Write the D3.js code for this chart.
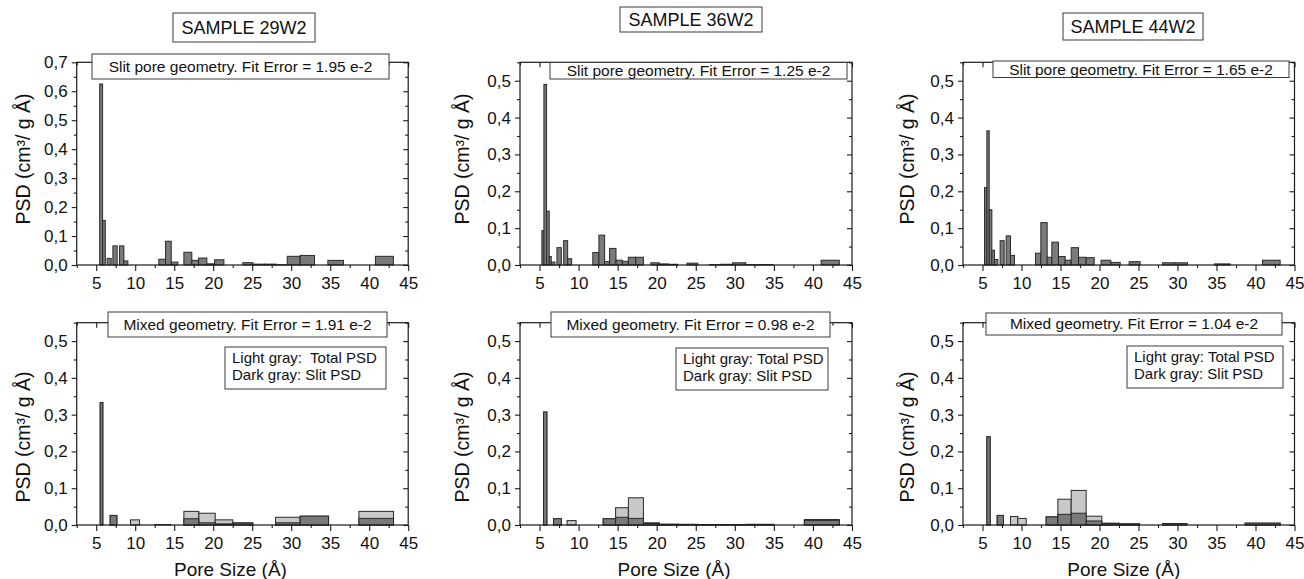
<!DOCTYPE html>
<html>
<meta charset="utf-8">
<style>

body {
  margin: 0;
  background: #fff;
  font-family: "Liberation Sans", Arial, sans-serif;
}

.frame {
  fill: none;
  stroke: #1a1a1a;
  stroke-width: 1.2px;
}

.axis path {
  display: none;
}

.axis line {
  stroke: #1a1a1a;
  stroke-width: 1.1px;
}

.axis text {
  font-family: "Liberation Sans", Arial, sans-serif;
  font-size: 17px;
  fill: #111;
}

.slit {
  fill: #7a7a7a;
  stroke: #2a2a2a;
  stroke-width: 1px;
}

.total {
  fill: #c8c8c8;
  stroke: #2a2a2a;
  stroke-width: 1px;
}

.box {
  fill: #fff;
  stroke: #3a3a3a;
  stroke-width: 1px;
}

</style>
<body>
<script src="https://cdn.jsdelivr.net/npm/d3@7"></script>
<script>

// slit-only fits: [bin start, bin end, PSD]
var slit29 = [
  [5.45, 5.82, 0.625], [5.82, 6.17, 0.154], [6.40, 6.92, 0.023],
  [7.14, 7.69, 0.066], [7.99, 8.55, 0.066], [8.55, 9.06, 0.014],
  [13.03, 13.89, 0.020], [13.89, 14.62, 0.082], [14.62, 15.47, 0.010],
  [16.24, 17.26, 0.044], [17.26, 18.12, 0.016], [18.12, 19.19, 0.024],
  [19.19, 20.17, 0.004], [20.17, 21.37, 0.018], [23.80, 25.09, 0.008],
  [25.09, 26.58, 0.003], [26.58, 28.08, 0.003], [28.08, 29.49, 0.001],
  [29.49, 31.15, 0.030], [31.15, 32.99, 0.033], [34.70, 36.70, 0.016],
  [40.80, 43.10, 0.030]
];

var slit36 = [
  [5.30, 5.56, 0.093], [5.56, 5.90, 0.490], [5.90, 6.24, 0.146],
  [6.24, 6.50, 0.023], [6.50, 6.97, 0.008], [7.23, 7.79, 0.047],
  [8.09, 8.60, 0.066], [8.60, 9.12, 0.017], [11.82, 12.60, 0.034],
  [12.60, 13.33, 0.081], [13.33, 13.97, 0.009], [13.97, 14.79, 0.045],
  [14.79, 15.60, 0.013], [15.60, 16.37, 0.010], [16.37, 17.32, 0.021],
  [17.32, 18.30, 0.021], [19.25, 20.32, 0.006], [20.32, 21.48, 0.003],
  [21.48, 22.68, 0.002], [23.88, 25.26, 0.005], [26.76, 28.18, 0.001],
  [28.18, 29.72, 0.002], [29.72, 31.40, 0.006], [31.40, 33.20, 0.001],
  [33.20, 34.90, 0.001], [41.05, 43.37, 0.013]
];

var slit44 = [
  [5.26, 5.56, 0.210], [5.56, 5.86, 0.364], [5.86, 6.20, 0.150],
  [6.20, 6.53, 0.040], [6.53, 6.97, 0.015], [7.26, 7.78, 0.066],
  [8.03, 8.59, 0.079], [8.59, 9.10, 0.026], [11.79, 12.48, 0.032],
  [12.48, 13.29, 0.115], [13.29, 13.89, 0.021], [13.89, 14.74, 0.062],
  [14.74, 15.60, 0.023], [15.60, 16.37, 0.013], [16.37, 17.31, 0.047],
  [17.31, 18.29, 0.021], [18.29, 19.32, 0.020], [20.20, 21.45, 0.013],
  [21.45, 22.65, 0.007], [23.80, 25.21, 0.009], [28.08, 29.62, 0.006],
  [29.62, 31.28, 0.006], [34.74, 36.75, 0.003], [40.90, 43.16, 0.013]
];

// mixed fits: [bin start, bin end, total PSD, slit PSD]
var mixed29 = [
  [5.51, 5.85, 0.333, 0.333], [6.79, 7.65, 0.026, 0.026], [9.40, 10.56, 0.014, 0],
  [12.50, 14.60, 0.001, 0], [16.24, 18.16, 0.037, 0.017], [18.16, 20.26, 0.032, 0.006],
  [20.26, 22.52, 0.014, 0.003], [22.52, 25.08, 0.006, 0.005], [27.99, 31.15, 0.021, 0.006],
  [31.15, 34.79, 0.024, 0.024], [38.68, 43.12, 0.037, 0.018]
];

var mixed36 = [
  [5.52, 5.94, 0.307, 0.307], [6.80, 7.79, 0.017, 0.017], [8.52, 9.68, 0.012, 0],
  [13.15, 14.74, 0.017, 0.017], [14.74, 16.37, 0.047, 0.021], [16.37, 18.30, 0.074, 0.018],
  [18.30, 20.32, 0.006, 0.004], [20.32, 22.68, 0.002, 0.002], [22.68, 25.26, 0.002, 0.001],
  [25.26, 28.26, 0.001, 0.001], [28.26, 31.40, 0.001, 0.001], [31.40, 35.00, 0.002, 0.001],
  [38.90, 43.37, 0.015, 0.012]
];

var mixed44 = [
  [5.56, 5.98, 0.240, 0.240], [6.88, 7.69, 0.026, 0.026], [8.59, 9.53, 0.023, 0],
  [9.53, 10.60, 0.018, 0], [13.16, 14.66, 0.022, 0.022], [14.66, 16.37, 0.070, 0.029],
  [16.37, 18.29, 0.094, 0.032], [18.29, 20.30, 0.024, 0.011], [20.30, 22.56, 0.005, 0.004],
  [22.56, 25.13, 0.003, 0.003], [28.08, 31.20, 0.004, 0.004], [38.67, 43.16, 0.005, 0.005]
];

var samples = ["SAMPLE 29W2", "SAMPLE 36W2", "SAMPLE 44W2"];
var slitNotes = ["Slit pore geometry. Fit Error = 1.95 e-2",
                 "Slit pore geometry. Fit Error = 1.25 e-2",
                 "Slit pore geometry. Fit Error = 1.65 e-2"];
var mixedNotes = ["Mixed geometry. Fit Error = 1.91 e-2",
                  "Mixed geometry. Fit Error = 0.98 e-2",
                  "Mixed geometry. Fit Error = 1.04 e-2"];
var legendLines = [["Light gray:  Total PSD", "Dark gray: Slit PSD"],
                   ["Light gray: Total PSD", "Dark gray: Slit PSD"],
                   ["Light gray: Total PSD", "Dark gray: Slit PSD"]];

var xTicks = [5, 10, 15, 20, 25, 30, 35, 40, 45],
    xMinor = [2.5, 7.5, 12.5, 17.5, 22.5, 27.5, 32.5, 37.5, 42.5],
    yTicks07 = [0, 0.1, 0.2, 0.3, 0.4, 0.5, 0.6, 0.7],
    yTicks05 = [0, 0.1, 0.2, 0.3, 0.4, 0.5],
    yMinor07 = [0.05, 0.15, 0.25, 0.35, 0.45, 0.55, 0.65],
    yMinor05 = [0.05, 0.15, 0.25, 0.35, 0.45, 0.55];

// layout
var cols = [
  {left: 76.7, right: 408.2, ylab: 23, xlabShift: -12},
  {left: 520, right: 852, ylab: 462, xlabShift: -12},
  {left: 963, right: 1294.5, ylab: 907, xlabShift: -5}
];
var rows = [
  {top: 62.3, bottom: 265, ylabY: 159},
  {top: 322.7, bottom: 525, ylabY: 437}
];
var titleBoxes = [[173, 13, 142, 29], [620, 7, 142, 25], [1063, 13, 140, 27]];
var noteBoxes = [
  [[92, 54, 297, 25], [550, 62.5, 297, 16.5], [993, 61, 296, 16.5]],
  [[108, 312, 279, 25], [551, 312, 279, 25], [986, 313, 296, 22]]
];
var legendBoxes = [[225, 347, 161, 42], [676, 348, 152, 42], [1127, 346, 156, 42]];

var fmt = function(d) { return d3.format(".1f")(d).replace(".", ","); };

var svg = d3.select("body").append("svg")
    .attr("width", 1304)
    .attr("height", 579);

function box(r, text, size) {
  svg.append("rect")
      .attr("class", "box")
      .attr("x", r[0]).attr("y", r[1])
      .attr("width", r[2]).attr("height", r[3]);
  svg.append("text")
      .attr("x", r[0] + r[2] / 2)
      .attr("y", r[1] + r[3] / 2 + size * 0.35)
      .attr("text-anchor", "middle")
      .style("font-size", size + "px")
      .style("fill", "#111")
      .text(text);
}

function panel(ci, ri, ymax, yTicks, yMinor, draw) {
  var c = cols[ci], r = rows[ri];

  var x = d3.scaleLinear().domain([2.5, 45]).range([c.left, c.right]);
  var y = d3.scaleLinear().domain([0, ymax]).range([r.bottom, r.top]);

  var g = svg.append("g");

  draw(g, x, y);

  g.append("rect")
      .attr("class", "frame")
      .attr("x", c.left).attr("y", r.top)
      .attr("width", c.right - c.left).attr("height", r.bottom - r.top);

  // bottom / left: outward ticks with labels
  g.append("g").attr("class", "axis")
      .attr("transform", "translate(0," + r.bottom + ")")
      .call(d3.axisBottom(x).tickValues(xTicks).tickSize(6).tickPadding(6).tickFormat(d3.format("d")));
  g.append("g").attr("class", "axis")
      .attr("transform", "translate(0," + r.bottom + ")")
      .call(d3.axisBottom(x).tickValues(xMinor).tickSize(3).tickFormat(""));
  g.append("g").attr("class", "axis")
      .attr("transform", "translate(" + c.left + ",0)")
      .call(d3.axisLeft(y).tickValues(yTicks).tickSize(5).tickPadding(4).tickFormat(fmt));
  g.append("g").attr("class", "axis")
      .attr("transform", "translate(" + c.left + ",0)")
      .call(d3.axisLeft(y).tickValues(yMinor).tickSize(3).tickFormat(""));

  // top / right: inward ticks, no labels
  g.append("g").attr("class", "axis")
      .attr("transform", "translate(0," + r.top + ")")
      .call(d3.axisBottom(x).tickValues(xTicks).tickSize(5).tickFormat(""));
  g.append("g").attr("class", "axis")
      .attr("transform", "translate(0," + r.top + ")")
      .call(d3.axisBottom(x).tickValues(xMinor).tickSize(3).tickFormat(""));
  g.append("g").attr("class", "axis")
      .attr("transform", "translate(" + c.right + ",0)")
      .call(d3.axisLeft(y).tickValues(yTicks).tickSize(5).tickFormat(""));
  g.append("g").attr("class", "axis")
      .attr("transform", "translate(" + c.right + ",0)")
      .call(d3.axisLeft(y).tickValues(yMinor).tickSize(3).tickFormat(""));

  g.append("text")
      .attr("transform", "translate(" + c.ylab + "," + r.ylabY + ") rotate(-90)")
      .attr("text-anchor", "middle")
      .attr("dy", "0.35em")
      .style("font-size", "19.5px")
      .style("fill", "#111")
      .text("PSD (cm³/ g Å)");

  if (ri === 1) {
    g.append("text")
        .attr("x", (c.left + c.right) / 2 + c.xlabShift)
        .attr("y", 576)
        .attr("text-anchor", "middle")
        .style("font-size", "19px")
        .style("fill", "#111")
        .text("Pore Size (Å)");
  }
}

function slitBars(data) {
  return function(g, x, y) {
    g.selectAll(".slit")
      .data(data)
      .enter().append("rect")
        .attr("class", "slit")
        .attr("x", function(d) { return x(d[0]); })
        .attr("width", function(d) { return x(d[1]) - x(d[0]); })
        .attr("y", function(d) { return y(d[2]); })
        .attr("height", function(d) { return y(0) - y(d[2]); });
  };
}

function mixedBars(data) {
  return function(g, x, y) {
    g.selectAll(".total")
      .data(data)
      .enter().append("rect")
        .attr("class", "total")
        .attr("x", function(d) { return x(d[0]); })
        .attr("width", function(d) { return x(d[1]) - x(d[0]); })
        .attr("y", function(d) { return y(d[2]); })
        .attr("height", function(d) { return y(0) - y(d[2]); });
    g.selectAll(".slit")
      .data(data.filter(function(d) { return d[3] > 0; }))
      .enter().append("rect")
        .attr("class", "slit")
        .attr("x", function(d) { return x(d[0]); })
        .attr("width", function(d) { return x(d[1]) - x(d[0]); })
        .attr("y", function(d) { return y(d[3]); })
        .attr("height", function(d) { return y(0) - y(d[3]); });
  };
}

var slitData = [slit29, slit36, slit44],
    mixedData = [mixed29, mixed36, mixed44];

slitData.forEach(function(d, i) {
  panel(i, 0, i === 0 ? 0.7 : 0.55, i === 0 ? yTicks07 : yTicks05,
        i === 0 ? yMinor07 : yMinor05, slitBars(d));
  box(titleBoxes[i], samples[i], 18);
  box(noteBoxes[0][i], slitNotes[i], 15.5);
});

mixedData.forEach(function(d, i) {
  panel(i, 1, 0.55, yTicks05, yMinor05, mixedBars(d));
  box(noteBoxes[1][i], mixedNotes[i], 15.5);

  var lb = legendBoxes[i];
  svg.append("rect")
      .attr("class", "box")
      .attr("x", lb[0]).attr("y", lb[1])
      .attr("width", lb[2]).attr("height", lb[3]);
  svg.selectAll(null)
      .data(legendLines[i])
      .enter().append("text")
        .attr("x", lb[0] + 7)
        .attr("y", function(t, j) { return lb[1] + 16 + j * 17; })
        .style("font-size", "15px")
        .style("fill", "#111")
        .style("white-space", "pre")
        .text(function(t) { return t; });
});

</script>
</body>
</html>
